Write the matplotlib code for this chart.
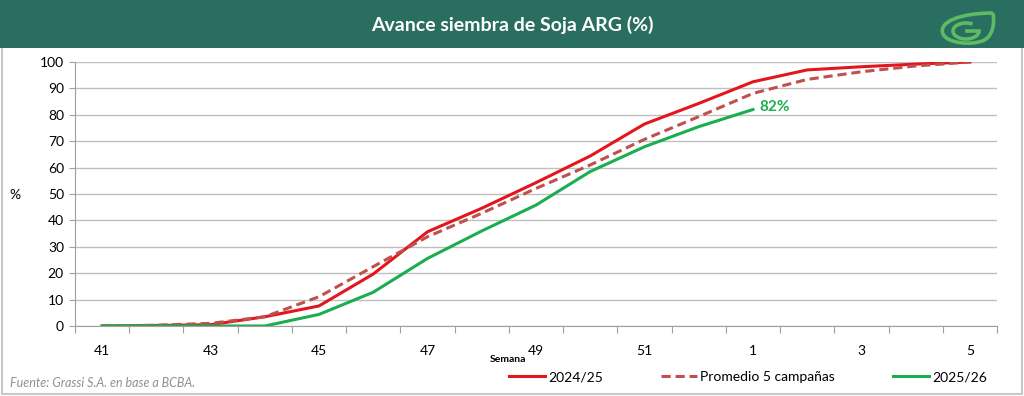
import matplotlib.pyplot as plt
from matplotlib.patches import Rectangle, PathPatch, Arc
from matplotlib.path import Path
from matplotlib.lines import Line2D

plt.rcParams["font.family"] = ["Lato", "DejaVu Sans"]

WEEKS = ["41", "42", "43", "44", "45", "46", "47", "48", "49", "50", "51", "52",
         "1", "2", "3", "4", "5"]
CAMP_2425 = [0, 0.2, 0.5, 3.5, 7.6, 19.7, 35.7, 44.6, 54.3, 64.4, 76.5, 84.3,
             92.5, 97.0, 98.2, 99.2, 100]
PROMEDIO = [0, 0.3, 1.0, 3.5, 11.1, 22.5, 33.8, 42.7, 52.1, 61.0, 70.7, 79.3,
            88.1, 93.4, 96.3, 98.5, 100]
CAMP_2526 = [0, 0, 0, 0, 4.4, 12.8, 25.6, 36.0, 45.8, 58.5, 67.9, 75.5, 82.0]

RED = "#E3161E"
DASH = "#C0504D"
GREEN = "#1BAE50"
HEADER = "#2A6E62"
LOGO = "#5DBB63"

W, H = 1024, 396


def px(xp, yp):
    # pixel position (y down) -> figure fraction
    return xp / W, 1 - yp / H


def draw_logo(fig):
    pts = [(993, 13), (995, 25), (992, 38), (982, 41),
           (972, 45), (948, 44), (943, 34),
           (938, 22), (960, 13), (993, 13)]
    codes = [Path.MOVETO] + [Path.CURVE4] * 9
    leaf = Path([px(*p) for p in pts], codes)
    fig.patches.append(PathPatch(leaf, transform=fig.transFigure, fill=False,
                                 edgecolor=LOGO, lw=2.6))
    cx, cy = px(966, 31)
    fig.patches.append(Arc((cx, cy), 26 / W, 16 / H, theta1=70, theta2=360,
                           transform=fig.transFigure, edgecolor=LOGO, lw=2.6))
    x0, y0 = px(967, 31)
    x1, _ = px(979, 31)
    fig.lines.append(Line2D([x0, x1], [y0, y0], transform=fig.transFigure,
                            color=LOGO, lw=2.6))


def main():
    fig = plt.figure(figsize=(10.24, 3.96), dpi=100)

    # outer frame and header band
    fig.patches.append(Rectangle((0.002, 0.004), 0.996, 0.99, transform=fig.transFigure,
                                 fill=False, edgecolor="#C8C8C8", lw=1.5))
    fig.patches.append(Rectangle((0, 1 - 48 / H), 1, 48 / H, transform=fig.transFigure,
                                 facecolor=HEADER, edgecolor="none"))
    fig.text(0.5, 1 - 25 / H, "Avance siembra de Soja ARG (%)", color="white",
             fontsize=14, fontweight="bold", ha="center", va="center")
    draw_logo(fig)

    ax = fig.add_axes([75 / W, 70 / H, 922 / W, 264 / H])
    x = list(range(len(WEEKS)))

    ax.plot(x, CAMP_2425, color=RED, lw=2.2, label="2024/25")
    ax.plot(x, PROMEDIO, color=DASH, lw=2.2, ls=(0, (3, 1.6)), label="Promedio 5 campañas")
    ax.plot(x[:len(CAMP_2526)], CAMP_2526, color=GREEN, lw=2.2, label="2025/26")

    ax.text(len(CAMP_2526) - 1 + 0.12, CAMP_2526[-1] + 1, f"{CAMP_2526[-1]:.0f}%",
            color=GREEN, fontsize=11, fontweight="bold", ha="left", va="center")

    ax.set_xlim(-0.5, len(WEEKS) - 0.5)
    ax.set_ylim(0, 100)
    ax.set_yticks(range(0, 101, 10))
    ax.set_xticks([i - 0.5 for i in range(len(WEEKS) + 1)], minor=False)
    ax.set_xticklabels([])
    ax.set_xticks(x[::2], minor=True)
    ax.set_xticklabels(WEEKS[::2], minor=True)
    ax.tick_params(axis="x", which="major", length=5, color="#A0A0A0")
    ax.tick_params(axis="x", which="minor", length=0, pad=14, labelsize=10)
    ax.tick_params(axis="y", length=4, color="#A0A0A0", labelsize=10, pad=4)

    ax.grid(True, axis="y", color="#BFBFBF", lw=1)
    ax.set_axisbelow(True)
    for s in ["top", "right"]:
        ax.spines[s].set_visible(False)
    ax.spines["left"].set_color("#A0A0A0")
    ax.spines["bottom"].set_color("#A0A0A0")

    fig.text(15 / W, 1 - 195 / H, "%", fontsize=10, ha="center", va="center")
    fig.text(508 / W, 1 - 360 / H, "Semana", fontsize=7.5, fontweight="bold",
             ha="center", va="center")
    fig.text(10 / W, 1 - 383 / H, "Fuente: Grassi S.A. en base a BCBA.",
             fontsize=9, style="italic", color="#909090", ha="left", va="center")

    fig.legend(loc="center", bbox_to_anchor=(748 / W, 1 - 377 / H), ncol=3,
               frameon=False, fontsize=10, handlelength=2.6, handletextpad=0.2,
               columnspacing=4.2)

    fig.savefig("out.png", dpi=100)
    plt.close(fig)


if __name__ == "__main__":
    main()
